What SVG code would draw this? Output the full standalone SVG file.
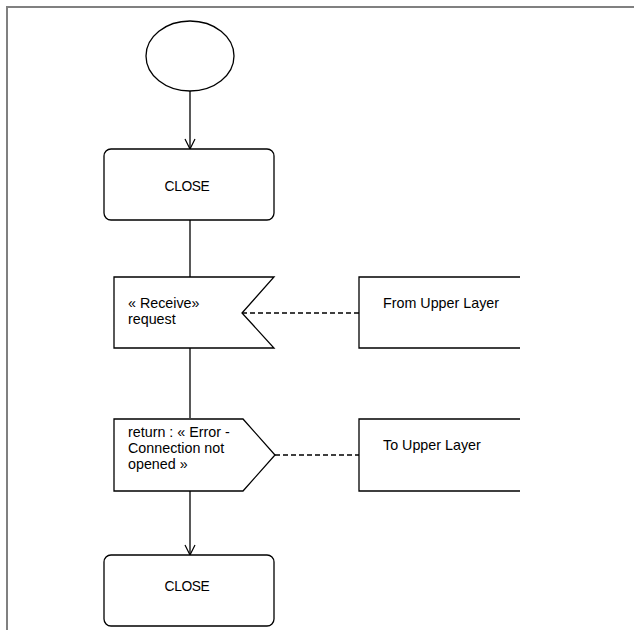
<svg xmlns="http://www.w3.org/2000/svg" width="634" height="630" viewBox="0 0 634 630">
<defs>
<style>
.shape{fill:#fff;stroke:#000;stroke-width:1.3}
.open{fill:none;stroke:#000;stroke-width:1.3}
.edge{fill:none;stroke:#000;stroke-width:1.3}
.dash{fill:none;stroke:#000;stroke-width:1.3;stroke-dasharray:5,3}
.frame{fill:none;stroke:#808080;stroke-width:2}
text{font-family:"Liberation Sans",Arial,sans-serif;font-size:14.3px;fill:#000}
.c{text-anchor:middle;font-size:13.8px;letter-spacing:-0.4px}
</style>
<marker id="arr" viewBox="0 0 12 12" refX="11" refY="6" markerWidth="12" markerHeight="12" markerUnits="userSpaceOnUse" orient="auto">
<path d="M1,1 L11,6 L1,11" fill="none" stroke="#000" stroke-width="1.2"/>
</marker>
</defs>
<rect width="634" height="630" fill="#fff"/>
<path class="frame" d="M7,631 L7,7 L636,7"/>
<g id="connectors">
<line class="edge" x1="190" y1="91" x2="190" y2="149" marker-end="url(#arr)"/>
<line class="edge" x1="190" y1="220" x2="190" y2="277"/>
<line class="edge" x1="190" y1="348" x2="190" y2="418"/>
<line class="edge" x1="190" y1="490" x2="190" y2="555" marker-end="url(#arr)"/>
<line class="dash" x1="242" y1="313" x2="359" y2="313"/>
<line class="dash" x1="275" y1="455" x2="359" y2="455"/>
</g>
<g id="start">
<ellipse class="shape" cx="190" cy="56" rx="44" ry="35"/>
</g>
<g id="close1">
<rect class="shape" x="104" y="149" width="170" height="71" rx="7" ry="7"/>
<text class="c" x="187" y="191">CLOSE</text>
</g>
<g id="receive">
<path class="shape" d="M114,277 L274,277 L242,313 L274,348 L114,348 Z"/>
<text x="128" y="308">« Receive»</text>
<text x="128" y="324">request</text>
</g>
<g id="from-upper">
<path class="open" d="M520,277 L359,277 L359,348 L520,348"/>
<text x="383" y="308">From Upper Layer</text>
</g>
<g id="return">
<path class="shape" d="M114,419 L243,419 L275,455 L243,491 L114,491 Z"/>
<text x="128" y="437">return : « Error -</text>
<text x="128" y="453">Connection not</text>
<text x="128" y="469">opened »</text>
</g>
<g id="to-upper">
<path class="open" d="M520,419 L359,419 L359,491 L520,491"/>
<text x="383" y="450">To Upper Layer</text>
</g>
<g id="close2">
<rect class="shape" x="104" y="555" width="170" height="71" rx="7" ry="7"/>
<text class="c" x="187" y="591">CLOSE</text>
</g>
</svg>
